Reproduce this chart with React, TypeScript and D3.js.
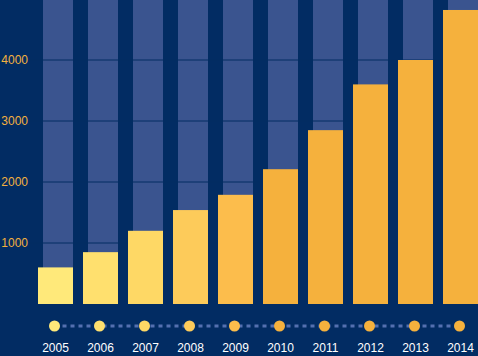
import React from "react";
import * as d3 from "d3";

const years = ["2005", "2006", "2007", "2008", "2009", "2010", "2011", "2012", "2013", "2014"];
const values = [600, 850, 1200, 1540, 1790, 2210, 2850, 3600, 4000, 4820];
const barColors = ["#ffe97a", "#ffe06e", "#fed865", "#fdcb5a", "#fcbd4c", "#f5b13d", "#f5b13d", "#f5b13d", "#f5b13d", "#f5b13d"];
const yTicks = [1000, 2000, 3000, 4000];
const yMax = 5000;

const W = 478;
const H = 356;
const BG = "#022c63";
const BG_BAR = "#3a548f";

export default function App() {
  const x = d3.scaleBand<string>().domain(years).range([38, 478]).paddingInner(10 / 45).paddingOuter(0);
  const y = d3.scaleLinear().domain([0, yMax]).range([304, -1]);
  const bw = x.bandwidth();
  const step = x.step();
  const dotY = 326;
  const first = (x(years[0]) as number) + bw / 2 - 1;
  const last = (x(years[years.length - 1]) as number) + bw / 2 - 1;

  return (
    <svg width={W} height={H} style={{ position: "absolute", left: 0, top: 0, display: "block" }}>
      <rect x={0} y={0} width={W} height={H} fill={BG} />
      {years.map((yr) => (
        <rect key={"bg" + yr} x={(x(yr) as number) + 5} y={y(yMax)} width={bw - 5} height={y(0) - y(yMax)} fill={BG_BAR} />
      ))}
      {yTicks.map((t) => (
        <line key={"g" + t} x1={0} x2={W} y1={y(t)} y2={y(t)} stroke={BG} strokeWidth={1} />
      ))}
      {years.map((yr, i) => (
        <rect key={"v" + yr} x={x(yr) as number} y={y(values[i])} width={bw} height={y(0) - y(values[i])} fill={barColors[i]} />
      ))}
      {yTicks.map((t) => (
        <text key={"t" + t} x={28} y={y(t) + 4} textAnchor="end" fill="#f3b13f" fontSize={12} fontFamily="Liberation Sans, Arial, sans-serif">
          {t}
        </text>
      ))}
      <line x1={first} x2={last} y1={dotY} y2={dotY} stroke="#5470b0" strokeWidth={3} strokeDasharray="4,4" />
      {years.map((yr, i) => {
        const cx = (x(yr) as number) + bw / 2 - 1;
        return (
          <g key={"d" + yr}>
            <circle cx={cx} cy={dotY} r={5.5} fill={barColors[i]} />
            <text x={cx + 1} y={352} textAnchor="middle" fill="#ffffff" fontSize={12} fontFamily="Liberation Sans, Arial, sans-serif">
              {yr}
            </text>
          </g>
        );
      })}
    </svg>
  );
}
